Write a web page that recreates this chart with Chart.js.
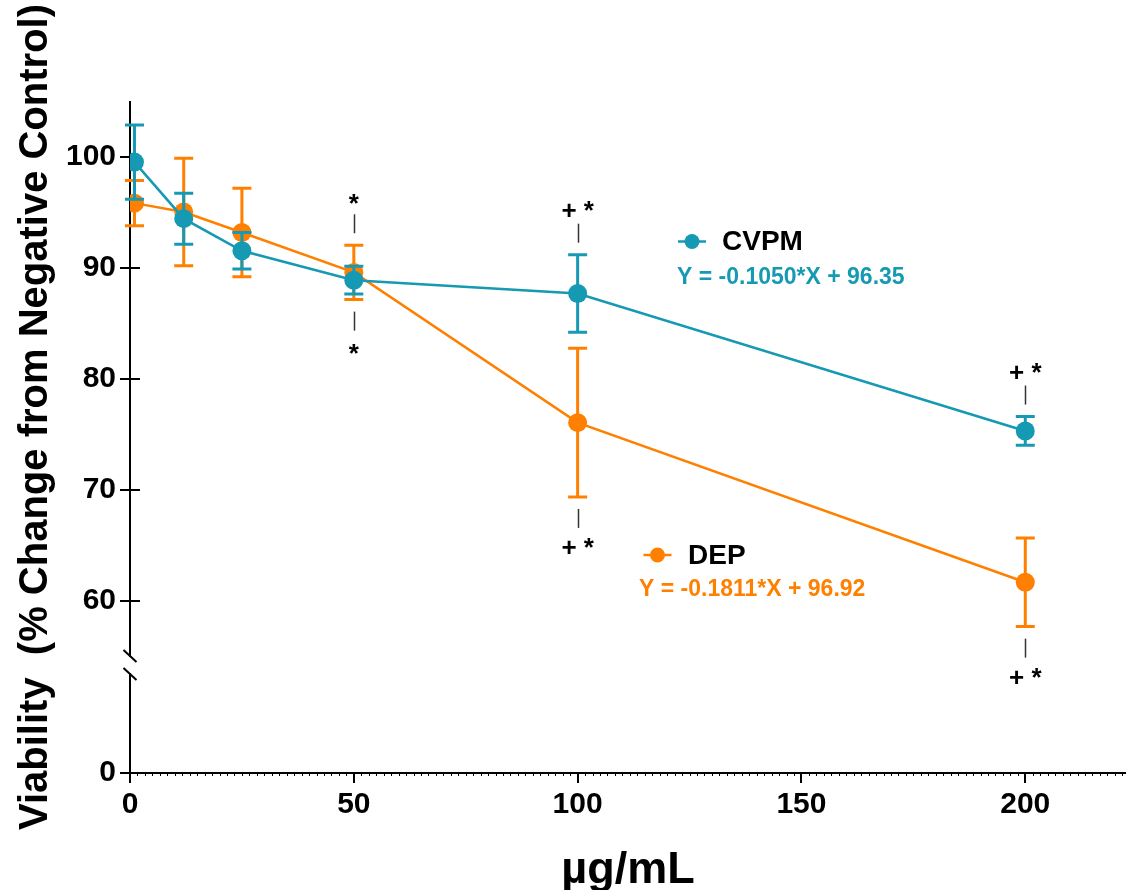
<!DOCTYPE html>
<html>
<head>
<meta charset="utf-8">
<script src="https://cdn.jsdelivr.net/npm/chart.js@4.4.1/dist/chart.umd.min.js"></script>
<style>
  html, body { margin: 0; padding: 0; background: #fff; overflow: hidden; }
  #chart { display: block; }
</style>
</head>
<body>
<canvas id="chart" width="1126" height="890"></canvas>
<script>
// Concentrations (µg/mL) and viability results, mean ± SD
const CONCENTRATIONS = [1, 12, 25, 50, 100, 200];
const CVPM_MEAN = [99.55, 94.45, 91.55, 88.9, 87.7, 75.3];
const CVPM_SD   = [3.35, 2.3, 1.65, 1.25, 3.5, 1.3];
const DEP_MEAN  = [95.85, 95.05, 93.2, 89.6, 76.05, 61.65];
const DEP_SD    = [2.05, 4.85, 4.0, 2.45, 6.7, 4.0];

const SERIES_NAMES = ['CVPM', 'DEP'];
const FIT_LABELS = ['Y = -0.1050*X + 96.35', 'Y = -0.1811*X + 96.92'];

const X_TICKS = [0, 50, 100, 150, 200];
const Y_TICKS_UPPER = [60, 70, 80, 90, 100];
const Y_TICKS_LOWER = [0];

// significance marks: concentration, symbol, placement
const SIG_X    = [50, 50, 100, 100, 200, 200];
const SIG_TEXT = ['*', '*', '+ *', '+ *', '+ *', '+ *'];
const SIG_SIDE = ['above', 'below', 'above', 'below', 'above', 'below'];

const X_TITLE = 'µg/mL';
const Y_TITLE = 'Viability  (% Change from Negative Control)';

const TEAL = '#1699B3';
const ORANGE = '#FF8000';
const FONT = '"Liberation Sans", Arial, Helvetica, sans-serif';

function points(means) {
  return CONCENTRATIONS.map((x, i) => ({ x: x, y: means[i] }));
}

// vertical error bars with caps, drawn right after each series
const errorBars = {
  id: 'errorBars',
  afterDatasetDraw(chart, args) {
    const ds = chart.data.datasets[args.index];
    if (!ds.errors) return;
    const xs = chart.scales[ds.xAxisID];
    const ys = chart.scales[ds.yAxisID];
    const ctx = chart.ctx;
    ctx.save();
    ctx.strokeStyle = ds.borderColor;
    ctx.lineWidth = 3;
    ctx.lineCap = 'butt';
    ds.data.forEach((p, i) => {
      const px = xs.getPixelForValue(p.x);
      const hi = ys.getPixelForValue(p.y + ds.errors[i]);
      const lo = ys.getPixelForValue(p.y - ds.errors[i]);
      ctx.beginPath();
      ctx.moveTo(px, hi); ctx.lineTo(px, lo);
      ctx.moveTo(px - 9.5, hi); ctx.lineTo(px + 9.5, hi);
      ctx.moveTo(px - 9.5, lo); ctx.lineTo(px + 9.5, lo);
      ctx.stroke();
    });
    ctx.restore();
  }
};

// axis furniture: inner tick stubs, minor x ticks, axis break marks
const axisExtras = {
  id: 'axisExtras',
  beforeDatasetsDraw(chart) {
    const ctx = chart.ctx;
    const yTop = chart.scales.yTop;
    const x = chart.scales.x;
    const left = chart.chartArea.left;
    ctx.save();
    ctx.strokeStyle = '#000';
    ctx.lineWidth = 2;
    yTop.ticks.forEach(t => {
      const py = Math.round(yTop.getPixelForValue(t.value));
      ctx.beginPath();
      ctx.moveTo(left, py); ctx.lineTo(left + 10, py);
      ctx.stroke();
    });
    // minor ticks along the x axis
    ctx.lineWidth = 1;
    const base = chart.chartArea.bottom;
    const step = 50 / 30;
    for (let k = 1; k * step < x.max; k++) {
      if (k % 30 === 0) continue;
      const px = Math.round(x.getPixelForValue(k * step)) + 0.5;
      ctx.beginPath();
      ctx.moveTo(px, base); ctx.lineTo(px, base + 3);
      ctx.stroke();
    }
    ctx.restore();
  },
  afterDraw(chart) {
    const ctx = chart.ctx;
    const left = chart.chartArea.left;
    const breaks = [chart.scales.yTop.bottom, chart.scales.yBot.top];
    ctx.save();
    ctx.strokeStyle = '#000';
    ctx.lineWidth = 2;
    breaks.forEach(by => {
      ctx.beginPath();
      ctx.moveTo(left - 6.5, by - 6);
      ctx.lineTo(left + 6.5, by + 6);
      ctx.stroke();
    });
    ctx.restore();
  }
};

// significance symbols with short connector dashes
const sigMarks = {
  id: 'sigMarks',
  afterDatasetsDraw(chart) {
    const ctx = chart.ctx;
    const xs = chart.scales.x;
    const ys = chart.scales.yTop;
    const sets = chart.data.datasets;
    ctx.save();
    ctx.font = 'bold 26px ' + FONT;
    ctx.fillStyle = '#000';
    ctx.strokeStyle = '#333';
    ctx.lineWidth = 1.5;
    ctx.textAlign = 'center';
    ctx.textBaseline = 'alphabetic';
    SIG_X.forEach((cx, k) => {
      const i = CONCENTRATIONS.indexOf(cx);
      const px = xs.getPixelForValue(cx);
      const above = SIG_SIDE[k] === 'above';
      const edge = above
        ? Math.min(...sets.map(d => ys.getPixelForValue(d.data[i].y + d.errors[i])))
        : Math.max(...sets.map(d => ys.getPixelForValue(d.data[i].y - d.errors[i])));
      const dir = above ? -1 : 1;
      const d1 = edge + dir * 12;
      const d2 = edge + dir * 31;
      const cy = edge + dir * (above ? 46 : 49);
      ctx.beginPath();
      ctx.moveTo(Math.round(px) + 0.5, d1);
      ctx.lineTo(Math.round(px) + 0.5, d2);
      ctx.stroke();
      const m = ctx.measureText(SIG_TEXT[k]);
      const by = cy + (m.actualBoundingBoxAscent - m.actualBoundingBoxDescent) / 2;
      ctx.fillText(SIG_TEXT[k], px, by);
    });
    ctx.restore();
  }
};

// legend entries with fitted-line equations, and the rotated y title
const annotations = {
  id: 'annotations',
  afterDraw(chart) {
    const ctx = chart.ctx;
    const spots = [
      { mx: 692, my: 241.5, tx: 722, ex: 677, ey: 278 },
      { mx: 657.5, my: 555, tx: 688, ex: 639, ey: 590 }
    ];
    ctx.save();
    chart.data.datasets.forEach((ds, i) => {
      const s = spots[i];
      ctx.strokeStyle = ds.borderColor;
      ctx.fillStyle = ds.borderColor;
      ctx.lineWidth = 2.5;
      ctx.beginPath();
      ctx.moveTo(s.mx - 14, s.my); ctx.lineTo(s.mx + 14, s.my);
      ctx.stroke();
      ctx.beginPath();
      ctx.arc(s.mx, s.my, 7.5, 0, Math.PI * 2);
      ctx.fill();
      ctx.textAlign = 'left';
      ctx.textBaseline = 'middle';
      ctx.fillStyle = '#000';
      ctx.font = 'bold 28px ' + FONT;
      ctx.fillText(SERIES_NAMES[i], s.tx, s.my + 1);
      ctx.fillStyle = ds.borderColor;
      ctx.font = 'bold 23px ' + FONT;
      ctx.fillText(FIT_LABELS[i], s.ex, s.ey);
    });
    ctx.translate(47, 417);
    ctx.rotate(-Math.PI / 2);
    ctx.textAlign = 'center';
    ctx.textBaseline = 'alphabetic';
    ctx.fillStyle = '#000';
    ctx.font = 'bold 40px ' + FONT;
    ctx.fillText(Y_TITLE, 0, 0);
    ctx.restore();
  }
};

const tickFont = { family: FONT, size: 30, weight: 'bold' };
const yFit = s => { s.width = 130; s.paddingTop = 0; s.paddingBottom = 0; };

new Chart(document.getElementById('chart'), {
  type: 'line',
  data: {
    datasets: [
      {
        label: SERIES_NAMES[0], data: points(CVPM_MEAN), errors: CVPM_SD,
        borderColor: TEAL, backgroundColor: TEAL, borderWidth: 2.5,
        pointRadius: 9.5, pointHoverRadius: 9.5, pointBorderWidth: 0,
        xAxisID: 'x', yAxisID: 'yTop', tension: 0
      },
      {
        label: SERIES_NAMES[1], data: points(DEP_MEAN), errors: DEP_SD,
        borderColor: ORANGE, backgroundColor: ORANGE, borderWidth: 2.5,
        pointRadius: 9.5, pointHoverRadius: 9.5, pointBorderWidth: 0,
        xAxisID: 'x', yAxisID: 'yTop', tension: 0
      }
    ]
  },
  options: {
    responsive: false,
    devicePixelRatio: 1,
    animation: false,
    events: [],
    layout: { autoPadding: false, padding: { top: 101.7, right: 0, bottom: 0, left: 0 } },
    plugins: { legend: { display: false }, tooltip: { enabled: false } },
    scales: {
      x: {
        type: 'linear', position: 'bottom', min: 0, max: 222.5,
        afterBuildTicks: s => { s.ticks = X_TICKS.map(v => ({ value: v })); },
        ticks: { font: tickFont, color: '#000', padding: 4, maxRotation: 0, autoSkip: false },
        grid: { drawOnChartArea: false, tickLength: 10, color: '#000', lineWidth: 2 },
        border: { color: '#000', width: 2 },
        title: {
          display: true, text: X_TITLE, color: '#000',
          font: { family: FONT, size: 45, weight: 'bold', lineHeight: 1 },
          padding: { top: 0, bottom: -3 }
        },
        afterFit: s => { s.height = 117; s.paddingLeft = 0; s.paddingRight = 0; }
      },
      yBot: {
        type: 'linear', position: 'left', stack: 'v', stackWeight: 99,
        min: 0, max: 9,
        afterBuildTicks: s => { s.ticks = Y_TICKS_LOWER.map(v => ({ value: v })); },
        ticks: { font: tickFont, color: '#000', padding: 4 },
        grid: { drawOnChartArea: false, tickLength: 10, color: '#000', lineWidth: 2 },
        border: { color: '#000', width: 2 },
        afterFit: yFit
      },
      yGap: {
        type: 'linear', position: 'left', stack: 'v', stackWeight: 18,
        min: 0, max: 1,
        ticks: { display: false },
        grid: { display: false },
        border: { display: false },
        afterFit: yFit
      },
      yTop: {
        type: 'linear', position: 'left', stack: 'v', stackWeight: 554.3,
        min: 55, max: 105,
        afterBuildTicks: s => { s.ticks = Y_TICKS_UPPER.map(v => ({ value: v })); },
        ticks: { font: tickFont, color: '#000', padding: 4 },
        grid: { drawOnChartArea: false, tickLength: 10, color: '#000', lineWidth: 2 },
        border: { color: '#000', width: 2 },
        afterFit: yFit
      }
    }
  },
  plugins: [axisExtras, errorBars, sigMarks, annotations]
});
</script>
</body>
</html>
